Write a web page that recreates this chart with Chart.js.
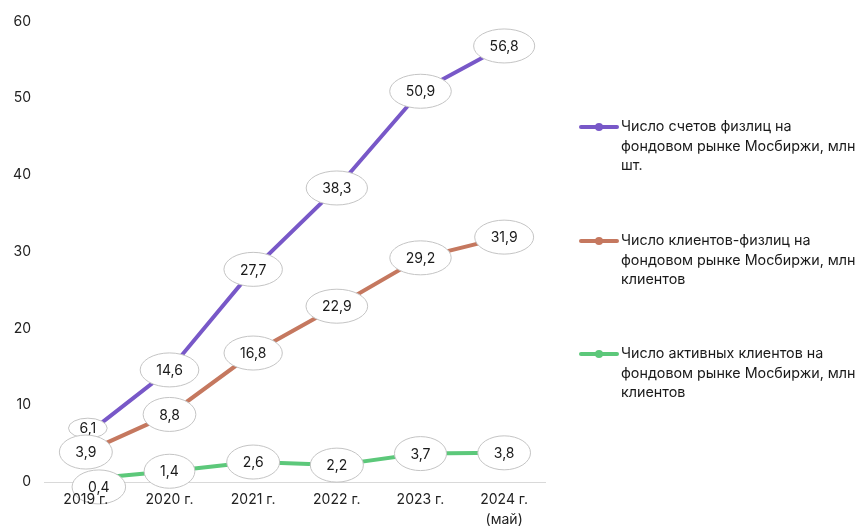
<!DOCTYPE html>
<html>
<head>
<meta charset="utf-8">
<script src="https://cdn.jsdelivr.net/npm/chart.js@4/dist/chart.umd.min.js"></script>
<style>
  html, body { margin: 0; padding: 0; background: #ffffff; }
  #wrap { width: 859px; height: 527px; position: relative; }
</style>
</head>
<body>
<div id="wrap"><canvas id="c" width="859" height="527"></canvas></div>
<script>
// ---- data ----
const categories = ['2019 г.', '2020 г.', '2021 г.', '2022 г.', '2023 г.', ['2024 г.', '(май)']];
const accounts = [6.1, 14.6, 27.7, 38.3, 50.9, 56.8];
const clients = [3.9, 8.8, 16.8, 22.9, 29.2, 31.9];
const activeClients = [0.4, 1.4, 2.6, 2.2, 3.7, 3.8];
const seriesNames = [
  ['Число счетов физлиц на', 'фондовом рынке Мосбиржи, млн', 'шт.'],
  ['Число клиентов-физлиц на', 'фондовом рынке Мосбиржи, млн', 'клиентов'],
  ['Число активных клиентов на', 'фондовом рынке Мосбиржи, млн', 'клиентов']
];
const yMin = 0, yMax = 60, yStep = 10;

// ---- styles ----
const colors = ['#7858c8', '#c5785f', '#5cc87a'];
const FONT = 'Inter, "Noto Sans", sans-serif';

// label offsets (dataset index -> point index -> [dx, dy])
const labelOffsets = { 0: { 0: [2, -7] }, 2: { 0: [13, 8] } };
const labelSmall = { 0: { 0: true } };

const axisLine = {
  id: 'axisLine',
  afterLayout(chart) {
    const s = chart.scales.x;
    if (!s._origDrawLabels) {
      s._origDrawLabels = s.drawLabels;
      s.drawLabels = function () {};
    }
  },
  beforeDatasetsDraw(chart) {
    const ctx = chart.ctx, a = chart.chartArea;
    ctx.save();
    ctx.strokeStyle = '#d9d9d9';
    ctx.lineWidth = 1;
    ctx.beginPath();
    ctx.moveTo(a.left, Math.round(a.bottom) + 0.5);
    ctx.lineTo(a.right, Math.round(a.bottom) + 0.5);
    ctx.stroke();
    ctx.restore();
  }
};

const ellipseLabels = {
  id: 'ellipseLabels',
  afterDatasetsDraw(chart) {
    const ctx = chart.ctx;
    ctx.save();
    ctx.font = '14px ' + FONT;
    ctx.textAlign = 'center';
    ctx.textBaseline = 'middle';
    chart.data.datasets.forEach((ds, di) => {
      const meta = chart.getDatasetMeta(di);
      meta.data.forEach((pt, i) => {
        const txt = ds.data[i].toFixed(1).replace('.', ',');
        const off = (labelOffsets[di] && labelOffsets[di][i]) || [0, 0];
        const x = pt.x + off[0], y = pt.y + off[1];
        const w = ctx.measureText(txt).width;
        const small = labelSmall[di] && labelSmall[di][i];
        const rx = small ? w / 2 + 11 : w / 2 + 16;
        const ry = small ? 10 : 17;
        ctx.beginPath();
        ctx.ellipse(x, y, rx, ry, 0, 0, Math.PI * 2);
        ctx.fillStyle = '#ffffff';
        ctx.fill();
        ctx.lineWidth = 1;
        ctx.strokeStyle = '#c4c4c4';
        ctx.stroke();
        ctx.fillStyle = '#1a1a1a';
        ctx.fillText(txt, x, y + 1);
      });
    });
    ctx.restore();
    // category labels sit on top of the ellipses, as in the reference
    const s = chart.scales.x;
    (s._origDrawLabels || s.drawLabels).call(s, chart.chartArea);
  }
};

const sideLegend = {
  id: 'sideLegend',
  afterDraw(chart) {
    const ctx = chart.ctx;
    ctx.save();
    ctx.font = '14.3px ' + FONT;
    ctx.textBaseline = 'middle';
    ctx.textAlign = 'left';
    const tops = [127, 241, 354];
    const lineH = 19.5;
    chart.data.datasets.forEach((ds, di) => {
      const y0 = tops[di];
      ctx.strokeStyle = colors[di];
      ctx.lineWidth = 4;
      ctx.lineCap = 'round';
      ctx.beginPath();
      ctx.moveTo(581, y0);
      ctx.lineTo(617, y0);
      ctx.stroke();
      ctx.fillStyle = colors[di];
      ctx.beginPath();
      ctx.arc(599, y0, 4, 0, Math.PI * 2);
      ctx.fill();
      ctx.fillStyle = '#1a1a1a';
      seriesNames[di].forEach((line, li) => {
        ctx.fillText(line, 621, y0 + li * lineH);
      });
    });
    ctx.restore();
  }
};

const datasets = [accounts, clients, activeClients].map((d, i) => ({
  label: seriesNames[i].join(' '),
  data: d,
  borderColor: colors[i],
  backgroundColor: colors[i],
  borderWidth: 4,
  pointRadius: 0,
  tension: 0,
  clip: false
}));

new Chart(document.getElementById('c'), {
  type: 'line',
  data: { labels: categories, datasets },
  plugins: [axisLine, ellipseLabels, sideLegend],
  options: {
    responsive: false,
    animation: false,
    layout: { padding: { top: 20, right: 313, left: 0, bottom: 0 } },
    plugins: { legend: { display: false }, tooltip: { enabled: false } },
    scales: {
      x: {
        offset: true,
        grid: { display: false, drawTicks: false },
        border: { display: false },
        ticks: { color: '#222', font: { family: FONT, size: 14, lineHeight: 1.4 }, padding: 8, maxRotation: 0, autoSkip: false },
        afterFit(s) { s.height = 45; }
      },
      y: {
        min: yMin, max: yMax,
        grid: { display: false, drawTicks: false },
        border: { display: false },
        ticks: { stepSize: yStep, color: '#222', font: { family: FONT, size: 14 }, padding: 13 },
        afterFit(s) { s.width = 44; }
      }
    }
  }
});
</script>
</body>
</html>
